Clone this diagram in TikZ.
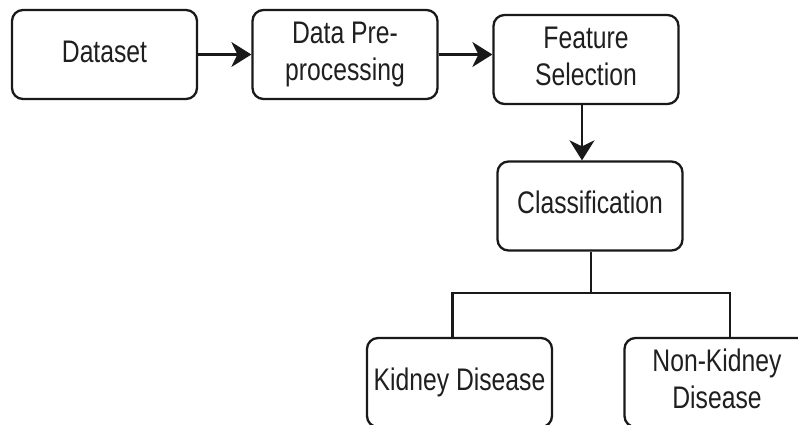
\documentclass[tikz,border=0pt]{standalone}
\usepackage{fontspec}
\setmainfont{Liberation Sans}
\usepackage{graphicx}
\usetikzlibrary{arrows.meta,calc}
\newcommand{\lbl}[1]{\scalebox{1.03}[1.3]{\begin{tabular}{@{}c@{}}#1\end{tabular}}}
\begin{document}
\begin{tikzpicture}[x=1pt,y=-1pt,
  box/.style={draw=black!90,line width=2.3pt,rounded corners=11pt,minimum width=185pt,minimum height=89pt,inner sep=0pt,font=\fontsize{24}{29}\selectfont,text=black!88},
  conn/.style={draw=black!90,line width=2.3pt},
  arr/.style={conn,-{Stealth[length=20pt,width=25pt,inset=6pt]}}]
\clip (0,0) rectangle (798,425);
\fill[white] (0,0) rectangle (798,425);
\node[box] (ds) at (104.5,54.5) {\lbl{Dataset}};
\node[box] (pre) at (345,54.5) {\lbl{Data Pre-\\processing}};
\node[box] (fs) at (586,59.5) {\lbl{Feature\\Selection}};
\node[box] (cls) at (590,206) {\lbl{Classification}};
\node[box] (kd) at (459.5,382.5) {\lbl{Kidney Disease}};
\node[box] (nkd) at (717,382.5) {\lbl{Non-Kidney\\Disease}};
\coordinate (j) at (591,293);
\draw[arr] (ds.east) -- (pre.west);
\draw[arr] (pre.east) -- (pre.east -| fs.west);
\draw[arr] ([xshift=-4pt]fs.south) -- ([xshift=-4pt]fs.south |- cls.north);
\draw[conn] (cls.south -| j) -- (j);
\draw[conn] ([xshift=-7pt]kd.north) |- (j) -| ([xshift=13pt]nkd.north);
\end{tikzpicture}
\end{document}
